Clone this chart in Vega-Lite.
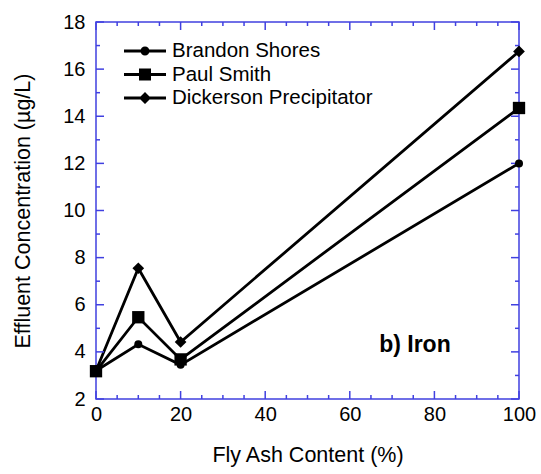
{
  "$schema": "https://vega.github.io/schema/vega-lite/v6.json",
  "width": 423,
  "height": 377,
  "autosize": "none",
  "padding": {"left": 96, "top": 22, "right": 22, "bottom": 75},
  "background": "white",
  "config": {
    "view": {"stroke": "#4040e0", "strokeWidth": 1.5},
    "font": "Liberation Sans",
    "axis": {
      "domain": false,
      "grid": false,
      "ticks": true,
      "tickColor": "#4040e0",
      "tickWidth": 1.5,
      "tickOpacity": 0,
      "labelFont": "Liberation Sans",
      "labelFontSize": 20,
      "labelColor": "black",
      "titleFont": "Liberation Sans",
      "titleFontSize": 21.5,
      "titleFontWeight": "normal",
      "titleColor": "black"
    },
    "legend": {
      "padding": 0,
      "labelFont": "Liberation Sans",
      "labelFontSize": 20.5,
      "labelColor": "black",
      "labelLimit": 0
    }
  },
  "datasets": {
    "fe": [
      {"series": "Brandon Shores", "ash": 0, "conc": 3.2},
      {"series": "Brandon Shores", "ash": 10, "conc": 4.32},
      {"series": "Brandon Shores", "ash": 20, "conc": 3.45},
      {"series": "Brandon Shores", "ash": 100, "conc": 12.0},
      {"series": "Paul Smith", "ash": 0, "conc": 3.18},
      {"series": "Paul Smith", "ash": 10, "conc": 5.47},
      {"series": "Paul Smith", "ash": 20, "conc": 3.68},
      {"series": "Paul Smith", "ash": 100, "conc": 14.35},
      {"series": "Dickerson Precipitator", "ash": 0, "conc": 3.2},
      {"series": "Dickerson Precipitator", "ash": 10, "conc": 7.55},
      {"series": "Dickerson Precipitator", "ash": 20, "conc": 4.42},
      {"series": "Dickerson Precipitator", "ash": 100, "conc": 16.75}
    ],
    "note": [
      {"ash": 75.4, "conc": 4.0, "label": "b) Iron"}
    ],
    "xticks": [
      {"v": 0, "kind": "major"}, {"v": 5, "kind": "minor"}, {"v": 10, "kind": "minor"}, {"v": 15, "kind": "minor"},
      {"v": 20, "kind": "major"}, {"v": 25, "kind": "minor"}, {"v": 30, "kind": "minor"}, {"v": 35, "kind": "minor"},
      {"v": 40, "kind": "major"}, {"v": 45, "kind": "minor"}, {"v": 50, "kind": "minor"}, {"v": 55, "kind": "minor"},
      {"v": 60, "kind": "major"}, {"v": 65, "kind": "minor"}, {"v": 70, "kind": "minor"}, {"v": 75, "kind": "minor"},
      {"v": 80, "kind": "major"}, {"v": 85, "kind": "minor"}, {"v": 90, "kind": "minor"}, {"v": 95, "kind": "minor"},
      {"v": 100, "kind": "major"}
    ],
    "yticks": [
      {"v": 2, "kind": "major"}, {"v": 3, "kind": "minor"}, {"v": 4, "kind": "major"}, {"v": 5, "kind": "minor"},
      {"v": 6, "kind": "major"}, {"v": 7, "kind": "minor"}, {"v": 8, "kind": "major"}, {"v": 9, "kind": "minor"},
      {"v": 10, "kind": "major"}, {"v": 11, "kind": "minor"}, {"v": 12, "kind": "major"}, {"v": 13, "kind": "minor"},
      {"v": 14, "kind": "major"}, {"v": 15, "kind": "minor"}, {"v": 16, "kind": "major"}, {"v": 17, "kind": "minor"},
      {"v": 18, "kind": "major"}
    ]
  },
  "layer": [
    {
      "data": {"name": "fe"},
      "mark": {"type": "line", "color": "black", "strokeWidth": 2.8},
      "encoding": {
        "x": {
          "field": "ash", "type": "quantitative",
          "scale": {"domain": [0, 100], "nice": false, "zero": false},
          "axis": {"orient": "bottom", "values": [0, 20, 40, 60, 80, 100], "offset": -8, "tickSize": 8, "labelPadding": 5, "labelFontSize": 20, "title": "Fly Ash Content (%)", "titleFontSize": 21.5, "titlePadding": 20, "labelFlush": false}
        },
        "y": {
          "field": "conc", "type": "quantitative",
          "scale": {"domain": [2, 18], "nice": false, "zero": false},
          "axis": {"orient": "left", "values": [2, 4, 6, 8, 10, 12, 14, 16, 18], "offset": -8, "tickSize": 8, "labelPadding": 11, "labelFontSize": 20, "title": "Effluent Concentration (µg/L)", "titleFontSize": 21.5, "titlePadding": 28, "labelFlush": false}
        },
        "detail": {"field": "series"},
        "order": {"field": "ash"}
      }
    },
    {
      "data": {"name": "xticks"},
      "transform": [{"filter": "datum.kind === 'major'"}],
      "mark": {"type": "tick", "orient": "vertical", "size": 8, "yOffset": -4, "thickness": 1.5, "color": "#4040e0", "opacity": 1},
      "encoding": {
        "x": {"field": "v", "type": "quantitative"},
        "y": {"datum": 2, "type": "quantitative"}
      }
    },
    {
      "data": {"name": "xticks"},
      "transform": [{"filter": "datum.kind === 'minor'"}],
      "mark": {"type": "tick", "orient": "vertical", "size": 4, "yOffset": -2, "thickness": 1.5, "color": "#4040e0", "opacity": 1},
      "encoding": {
        "x": {"field": "v", "type": "quantitative"},
        "y": {"datum": 2, "type": "quantitative"}
      }
    },
    {
      "data": {"name": "xticks"},
      "transform": [{"filter": "datum.kind === 'major'"}],
      "mark": {"type": "tick", "orient": "vertical", "size": 8, "yOffset": 4, "thickness": 1.5, "color": "#4040e0", "opacity": 1},
      "encoding": {
        "x": {"field": "v", "type": "quantitative"},
        "y": {"datum": 18, "type": "quantitative"}
      }
    },
    {
      "data": {"name": "xticks"},
      "transform": [{"filter": "datum.kind === 'minor'"}],
      "mark": {"type": "tick", "orient": "vertical", "size": 4, "yOffset": 2, "thickness": 1.5, "color": "#4040e0", "opacity": 1},
      "encoding": {
        "x": {"field": "v", "type": "quantitative"},
        "y": {"datum": 18, "type": "quantitative"}
      }
    },
    {
      "data": {"name": "yticks"},
      "transform": [{"filter": "datum.kind === 'major'"}],
      "mark": {"type": "tick", "orient": "horizontal", "size": 8, "xOffset": 4, "thickness": 1.5, "color": "#4040e0", "opacity": 1},
      "encoding": {
        "y": {"field": "v", "type": "quantitative"},
        "x": {"datum": 0, "type": "quantitative"}
      }
    },
    {
      "data": {"name": "yticks"},
      "transform": [{"filter": "datum.kind === 'minor'"}],
      "mark": {"type": "tick", "orient": "horizontal", "size": 4, "xOffset": 2, "thickness": 1.5, "color": "#4040e0", "opacity": 1},
      "encoding": {
        "y": {"field": "v", "type": "quantitative"},
        "x": {"datum": 0, "type": "quantitative"}
      }
    },
    {
      "data": {"name": "yticks"},
      "transform": [{"filter": "datum.kind === 'major'"}],
      "mark": {"type": "tick", "orient": "horizontal", "size": 8, "xOffset": -4, "thickness": 1.5, "color": "#4040e0", "opacity": 1},
      "encoding": {
        "y": {"field": "v", "type": "quantitative"},
        "x": {"datum": 100, "type": "quantitative"}
      }
    },
    {
      "data": {"name": "yticks"},
      "transform": [{"filter": "datum.kind === 'minor'"}],
      "mark": {"type": "tick", "orient": "horizontal", "size": 4, "xOffset": -2, "thickness": 1.5, "color": "#4040e0", "opacity": 1},
      "encoding": {
        "y": {"field": "v", "type": "quantitative"},
        "x": {"datum": 100, "type": "quantitative"}
      }
    },
    {
      "data": {"name": "fe"},
      "transform": [{"filter": "datum.series === 'Brandon Shores'"}],
      "mark": {"type": "point", "filled": true, "color": "black", "opacity": 1, "shape": "circle", "size": 64},
      "encoding": {
        "x": {"field": "ash", "type": "quantitative"},
        "y": {"field": "conc", "type": "quantitative"}
      }
    },
    {
      "data": {"name": "fe"},
      "transform": [{"filter": "datum.series === 'Paul Smith'"}],
      "mark": {"type": "point", "filled": true, "color": "black", "opacity": 1, "shape": "square", "size": 152},
      "encoding": {
        "x": {"field": "ash", "type": "quantitative"},
        "y": {"field": "conc", "type": "quantitative"}
      }
    },
    {
      "data": {"name": "fe"},
      "transform": [{"filter": "datum.series === 'Dickerson Precipitator'"}],
      "mark": {"type": "point", "filled": true, "color": "black", "opacity": 1, "shape": "diamond", "size": 137},
      "encoding": {
        "x": {"field": "ash", "type": "quantitative"},
        "y": {"field": "conc", "type": "quantitative"}
      }
    },
    {
      "data": {"name": "note"},
      "mark": {"type": "text", "font": "Liberation Sans", "fontWeight": "bold", "fontSize": 23, "align": "center", "baseline": "alphabetic", "color": "black"},
      "encoding": {
        "x": {"field": "ash", "type": "quantitative"},
        "y": {"field": "conc", "type": "quantitative"},
        "text": {"field": "label"}
      }
    },
    {
      "data": {"name": "fe"},
      "transform": [{"filter": "false"}],
      "mark": {"type": "point", "filled": true, "color": "black", "opacity": 1},
      "encoding": {
        "shape": {
          "field": "series", "type": "nominal",
          "scale": {
            "domain": ["Brandon Shores", "Paul Smith", "Dickerson Precipitator"],
            "range": [
              "M-2.1,-0.14H2.1V0.14H-2.1ZM0.45,0A0.45,0.45,0,1,1,-0.45,0A0.45,0.45,0,1,1,0.45,0Z",
              "M-2.1,-0.14H2.1V0.14H-2.1ZM-0.6,-0.6H0.6V0.6H-0.6Z",
              "M-2.1,-0.14H2.1V0.14H-2.1ZM0,-0.6L0.6,0L0,0.6L-0.6,0Z"
            ]
          },
          "legend": {
            "title": null,
            "orient": "none",
            "legendX": 38,
            "legendY": 18,
            "symbolSize": 400,
            "symbolOpacity": 1,
            "symbolFillColor": "black",
            "labelOffset": 16,
            "rowPadding": 1.5
          }
        }
      }
    }
  ]
}
